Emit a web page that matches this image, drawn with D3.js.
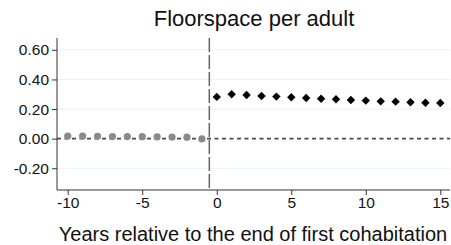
<!DOCTYPE html>
<html>
<head>
<meta charset="utf-8">
<script src="https://cdn.jsdelivr.net/npm/d3@7"></script>
<style>
  body { margin: 0; background: #fff; }
  svg { display: block; font-family: "Liberation Sans", Arial, sans-serif; }
</style>
</head>
<body>
<svg id="chart" width="451" height="245"></svg>
<script>
// years before the end of first cohabitation (grey dots)
const yearsBefore = [-10, -9, -8, -7, -6, -5, -4, -3, -2, -1];
const valuesBefore = [0.018, 0.018, 0.016, 0.014, 0.014, 0.013, 0.012, 0.011, 0.010, -0.002];

// years after (black diamonds)
const yearsAfter = [0, 1, 2, 3, 4, 5, 6, 7, 8, 9, 10, 11, 12, 13, 14, 15];
const valuesAfter = [0.282, 0.300, 0.295, 0.288, 0.284, 0.280, 0.275, 0.270, 0.266, 0.261, 0.257, 0.252, 0.250, 0.246, 0.243, 0.241];

const yTicks = [-0.2, 0, 0.2, 0.4, 0.6];
const xTicks = [-10, -5, 0, 5, 10, 15];

const svg = d3.select("#chart");
const W = +svg.attr("width");

const margin = { left: 57, right: 1, top: 38, bottom: 55 };

const x = d3.scaleLinear()
    .domain([-10.72, 15.65])
    .range([margin.left, W - margin.right]);

const y = d3.scaleLinear()
    .domain([-0.347, 0.68])
    .range([190, margin.top]);

// plain hyphen minus like the original
const hyph = f => d => f(d).replace("\u2212", "-");

// light gridlines (skip zero, dashed ref line goes there)
svg.append("g")
    .selectAll("line")
    .data(yTicks.filter(d => d !== 0))
    .join("line")
    .attr("x1", x.range()[0])
    .attr("x2", x.range()[1])
    .attr("y1", d => y(d))
    .attr("y2", d => y(d))
    .attr("stroke", "#eaf1f4")
    .attr("stroke-width", 1);

// zero reference line
svg.append("line")
    .attr("x1", x.range()[0])
    .attr("x2", x.range()[1])
    .attr("y1", y(0))
    .attr("y2", y(0))
    .attr("stroke", "#4a4a4a")
    .attr("stroke-width", 1.7)
    .attr("stroke-dasharray", "4,3.5");

// vertical line at -0.5
svg.append("line")
    .attr("x1", x(-0.5))
    .attr("x2", x(-0.5))
    .attr("y1", y.range()[1])
    .attr("y2", y.range()[0])
    .attr("stroke", "#666")
    .attr("stroke-width", 1.5)
    .attr("stroke-dasharray", "14,3");

// axes
const yAxis = d3.axisLeft(y)
    .tickValues(yTicks)
    .tickFormat(hyph(d3.format(".2f")))
    .tickSize(5)
    .tickPadding(3);

const xAxis = d3.axisBottom(x)
    .tickValues(xTicks)
    .tickFormat(hyph(d3.format("d")))
    .tickSize(5)
    .tickPadding(2);

const gy = svg.append("g")
    .attr("transform", `translate(${x.range()[0]},0)`)
    .call(yAxis);

const gx = svg.append("g")
    .attr("transform", `translate(0,${y.range()[0]})`)
    .call(xAxis);

[gx, gy].forEach(g => {
    g.attr("font-size", null);
    g.select(".domain").attr("stroke", "#333");
    g.selectAll(".tick line").attr("stroke", "#333");
    g.selectAll(".tick text")
        .attr("fill", "#111")
        .style("font-size", "15.5px")
        .style("font-family", "'Liberation Sans', Arial, sans-serif");
});

// draw domain lines full length
gy.select(".domain").attr("d", `M0,${y.range()[1]}V${y.range()[0]}`);
gx.select(".domain").attr("d", `M${x.range()[0]},0H${x.range()[1]}`);

// points before
svg.append("g")
    .selectAll("circle")
    .data(yearsBefore.map((d, i) => [d, valuesBefore[i]]))
    .join("circle")
    .attr("cx", d => x(d[0]))
    .attr("cy", d => y(d[1]))
    .attr("r", 3.6)
    .attr("fill", "#8a8a8a");

// points after
svg.append("g")
    .selectAll("path")
    .data(yearsAfter.map((d, i) => [d, valuesAfter[i]]))
    .join("path")
    .attr("transform", d => `translate(${x(d[0])},${y(d[1])})`)
    .attr("d", d3.symbol(d3.symbolDiamond2, 45))
    .attr("fill", "#000");

// title
svg.append("text")
    .attr("x", 254)
    .attr("y", 26)
    .attr("text-anchor", "middle")
    .style("font-size", "22px")
    .attr("fill", "#111")
    .text("Floorspace per adult");

// x label
svg.append("text")
    .attr("x", 253)
    .attr("y", 241)
    .attr("text-anchor", "middle")
    .style("font-size", "20px")
    .attr("fill", "#111")
    .text("Years relative to the end of first cohabitation");
</script>
</body>
</html>
